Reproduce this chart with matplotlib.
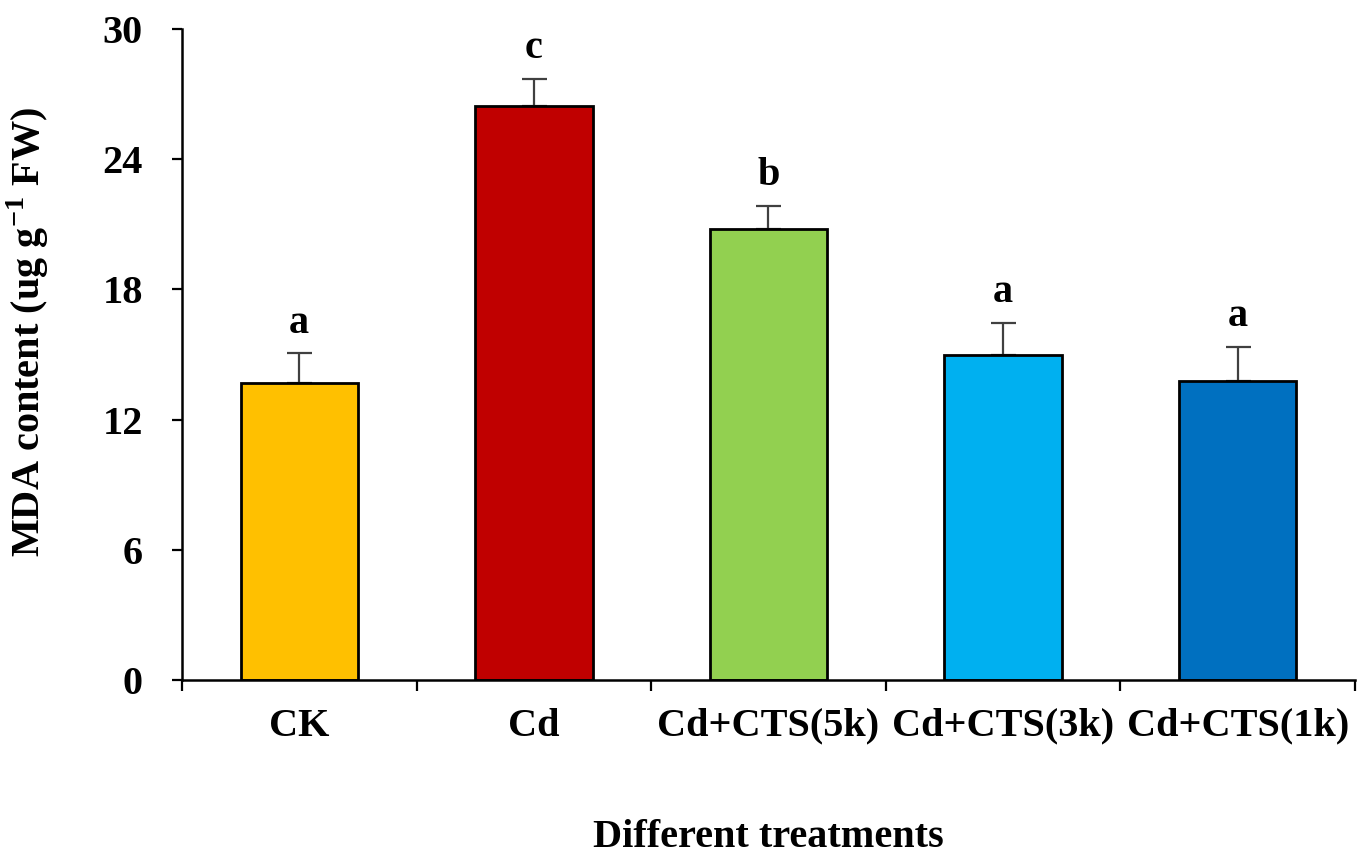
"""MDA content bar chart with error bars and significance letters."""

import matplotlib

matplotlib.use("Agg")
import matplotlib.pyplot as plt
import numpy as np

treatments = ["CK", "Cd", "Cd+CTS(5k)", "Cd+CTS(3k)", "Cd+CTS(1k)"]
mda = [13.7, 26.45, 20.8, 15.0, 13.8]
mda_err = [1.35, 1.25, 1.05, 1.45, 1.55]
letters = ["a", "c", "b", "a", "a"]
colors = ["#FFC000", "#C00000", "#92D050", "#00B0F0", "#0070C0"]
yticks = [0, 6, 12, 18, 24, 30]

FS = 29

plt.rcParams["font.family"] = ["Liberation Serif", "DejaVu Serif"]
plt.rcParams["font.weight"] = "bold"
plt.rcParams["mathtext.fontset"] = "custom"
plt.rcParams["mathtext.rm"] = "Liberation Serif:bold"
plt.rcParams["mathtext.bf"] = "Liberation Serif:bold"

fig = plt.figure(figsize=(13.65, 8.56), dpi=100)
ax = fig.add_axes([0.1333, 0.2056, 0.8594, 0.7605])

x = np.arange(len(treatments))
ax.bar(x, mda, width=0.5, color=colors, edgecolor="black", linewidth=2, zorder=2)
ax.errorbar(x, mda, yerr=[np.zeros(len(mda)), mda_err], fmt="none",
            ecolor="#404040", elinewidth=1.6, capsize=9, capthick=1.6, zorder=1)

for xi, m, e, lab in zip(x, mda, mda_err, letters):
    ax.text(xi, m + e + 0.95, lab, ha="center", va="baseline",
            fontsize=FS, fontweight="bold")

ax.set_xlim(-0.5, len(treatments) - 0.5)
ax.set_ylim(0, 30)
ax.set_yticks(yticks)
ax.set_xticks(x)
ax.set_xticklabels(treatments)
ax.set_xticks(np.arange(-0.5, len(treatments)), minor=True)

for side in ("top", "right"):
    ax.spines[side].set_visible(False)
for side in ("left", "bottom"):
    ax.spines[side].set_linewidth(1.8)

ax.tick_params(axis="x", which="major", length=0, pad=20, labelsize=FS)
ax.tick_params(axis="x", which="minor", length=8, width=1.6, direction="out")
ax.tick_params(axis="y", length=7.2, width=1.6, pad=21, labelsize=FS)

ax.set_xlabel("Different treatments", fontsize=FS, fontweight="bold")
ax.xaxis.set_label_coords(0.5, -0.2135)
ax.set_ylabel("MDA content (ug g$^{-1}$ FW)", fontsize=FS, fontweight="bold")
ax.yaxis.set_label_coords(-0.1115, 0.535)

fig.savefig("out.png", dpi=100)
plt.close(fig)
